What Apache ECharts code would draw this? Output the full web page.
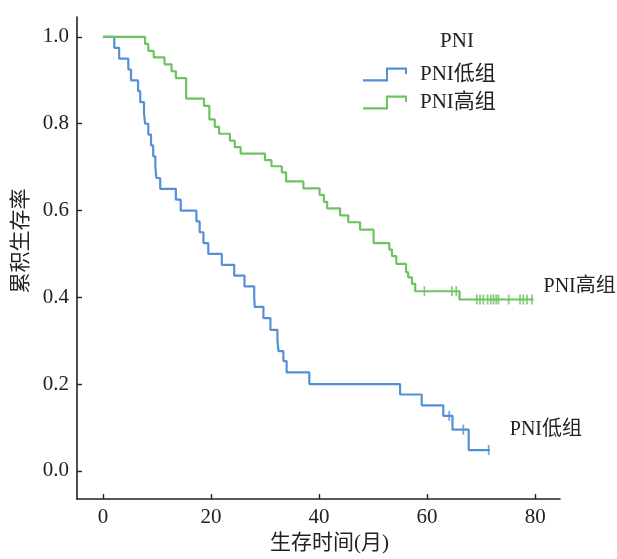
<!DOCTYPE html>
<html><head><meta charset="utf-8">
<script src="https://cdn.jsdelivr.net/npm/echarts@6/dist/echarts.min.js"></script>
<style>html,body{margin:0;padding:0;background:#fff;overflow:hidden}#c{width:100vw;height:100vh}</style>
</head><body><div id="c"></div>
<script>
// Kaplan-Meier steps: [time (months), cumulative survival after event]
const lowName = 'PNI低组';
const highName = 'PNI高组';
const lowSteps = [[0,1.0],[2.1,0.975],[3.0,0.95],[4.7,0.925],[5.2,0.90],[6.5,0.875],[6.9,0.85],[7.6,0.825],[7.8,0.80],[8.4,0.775],[8.9,0.75],[9.3,0.725],[9.7,0.70],[9.9,0.675],[10.6,0.65],[13.5,0.625],[14.4,0.60],[17.3,0.575],[17.9,0.55],[18.6,0.525],[19.5,0.50],[22.0,0.475],[24.3,0.45],[26.2,0.425],[28.0,0.40],[28.1,0.378],[29.7,0.352],[31.0,0.325],[32.3,0.30],[32.5,0.276],[33.4,0.253],[34.0,0.227],[38.2,0.20],[55.0,0.176],[59.0,0.151],[63.0,0.127],[64.7,0.095],[67.7,0.048],[71.6,0.048]];
const lowCensor = [[64.1,0.127],[66.7,0.095],[71.4,0.048]];
const highSteps = [[0,1.0],[7.8,0.984],[8.4,0.968],[9.4,0.953],[11.4,0.937],[12.7,0.921],[13.5,0.905],[15.4,0.858],[18.7,0.841],[19.7,0.81],[20.7,0.793],[21.5,0.777],[23.5,0.761],[24.4,0.746],[25.5,0.731],[30.0,0.716],[31.2,0.702],[33.1,0.688],[33.9,0.667],[37.1,0.651],[40.1,0.636],[40.9,0.62],[41.5,0.605],[43.9,0.589],[45.4,0.573],[47.6,0.556],[50.1,0.525],[53.0,0.51],[53.5,0.495],[54.3,0.477],[56.1,0.458],[56.5,0.446],[57.2,0.431],[57.8,0.414],[66.0,0.395],[79.7,0.395]];
const highCensor = [[59.5,0.414],[64.6,0.414],[65.4,0.414],[69.2,0.395],[69.8,0.395],[70.4,0.395],[71.2,0.395],[71.8,0.395],[72.3,0.395],[72.8,0.395],[73.2,0.395],[75.1,0.395],[77.2,0.395],[77.8,0.395],[78.5,0.395],[79.4,0.395]];
const xTicks = [0,20,40,60,80];
const yTicks = [0,0.2,0.4,0.6,0.8,1.0];
const xName = '生存时间(月)';
const yName = '累积生存率';
const legendTitle = 'PNI';

const blue = '#5590d6';
const green = '#6fc262';
const serif = "'Liberation Serif', 'Noto Sans CJK SC', serif";
const stepIcon = 'path://M0,11.8 H23 V0 H44 V6.5 H42 V2.2 H25 V14 H0 Z';

const chart = echarts.init(document.getElementById('c'), null, {renderer:'canvas'});
chart.setOption({
  animation: false,
  backgroundColor: '#fff',
  title: {text: legendTitle, left: 452, top: 26, textAlign: 'center',
    textStyle: {fontFamily: serif, fontSize: 21, fontWeight: 'normal', color: '#222'}},
  legend: {
    orient: 'vertical', left: 358, top: 59, itemWidth: 44, itemHeight: 14, itemGap: 7,
    data: [{name: lowName, icon: stepIcon}, {name: highName, icon: stepIcon}],
    textStyle: {fontFamily: serif, fontSize: 21, color: '#222', padding: [0,0,0,8]}
  },
  grid: {left: 77, right: 57, top: 17, bottom: 52, containLabel: false},
  xAxis: {
    type: 'value', min: -4.8, max: 84.6,
    name: xName, nameLocation: 'middle', nameGap: 30,
    nameTextStyle: {fontFamily: serif, fontSize: 21, color: '#222', padding: [0,0,0,22]},
    axisLine: {show: true, onZero: false, lineStyle: {color: '#222', width: 1.6}},
    axisTick: {show: true, inside: true, length: 5, customValues: xTicks, lineStyle: {color: '#222', width: 1.4}},
    axisLabel: {customValues: xTicks, fontFamily: serif, fontSize: 21, color: '#222', margin: 8},
    splitLine: {show: false}
  },
  yAxis: {
    type: 'value', min: -0.065, max: 1.046,
    name: yName, nameLocation: 'middle', nameGap: 44, nameRotate: 90,
    nameTextStyle: {fontFamily: serif, fontSize: 21, color: '#222', padding: [0,0,0,34]},
    axisLine: {show: true, onZero: false, lineStyle: {color: '#222', width: 1.6}},
    axisTick: {show: true, inside: true, length: 5, customValues: yTicks, lineStyle: {color: '#222', width: 1.4}},
    axisLabel: {customValues: yTicks, fontFamily: serif, fontSize: 21, color: '#222', margin: 8,
      formatter: v => v.toFixed(1)},
    splitLine: {show: false}
  },
  series: [
    {name: lowName, type: 'line', step: 'end', data: lowSteps, symbol: 'none', color: blue,
      lineStyle: {color: blue, width: 2.2},
      endLabel: {show: true, formatter: lowName, offset: [12, -20], fontFamily: serif, fontSize: 20, color: '#222'}},
    {name: highName, type: 'line', step: 'end', data: highSteps, symbol: 'none', color: green,
      lineStyle: {color: green, width: 2.2},
      endLabel: {show: true, formatter: highName, offset: [2, -13], fontFamily: serif, fontSize: 20, color: '#222'}},
    {name: lowName + '删失', type: 'scatter', data: lowCensor, symbol: 'rect', symbolSize: [1.8, 10],
      itemStyle: {color: blue}, silent: true},
    {name: highName + '删失', type: 'scatter', data: highCensor, symbol: 'rect', symbolSize: [1.8, 10],
      itemStyle: {color: green}, silent: true}
  ]
});
</script></body></html>
